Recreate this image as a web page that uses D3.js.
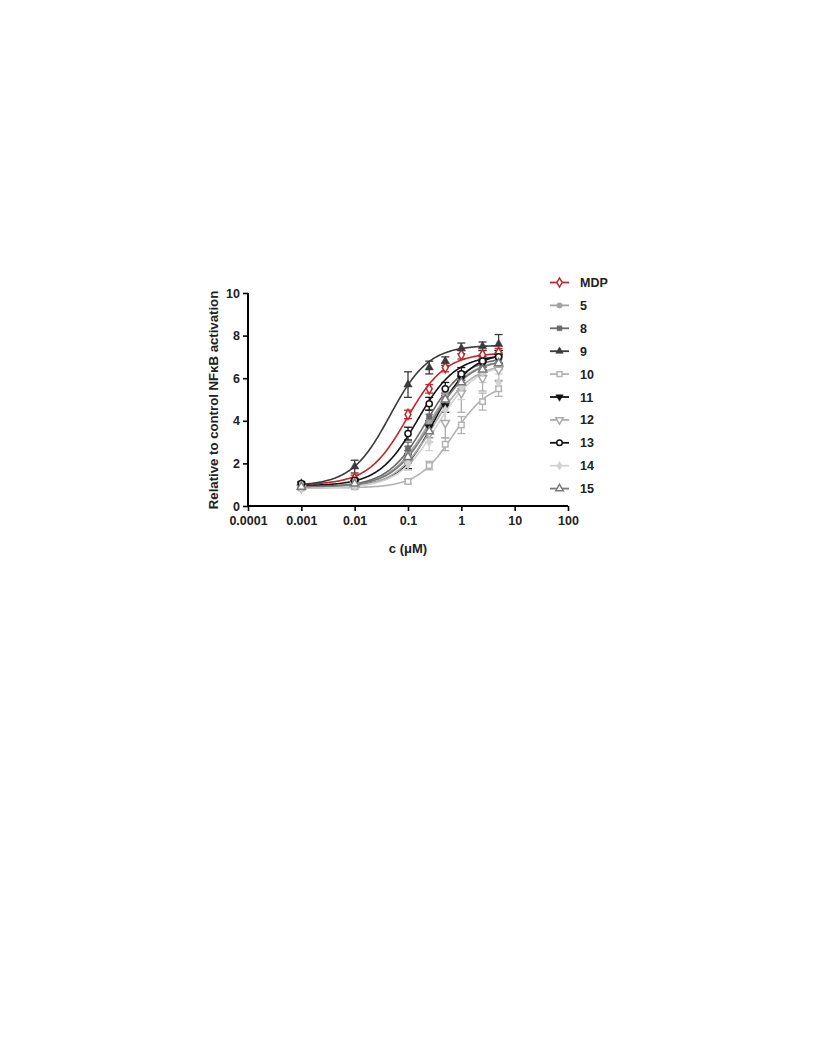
<!DOCTYPE html>
<html><head><meta charset="utf-8">
<script src="https://cdn.jsdelivr.net/npm/d3@7"></script>
<style>body{margin:0;background:#fff}svg{display:block}text{font-family:"Liberation Sans",Arial,sans-serif;font-weight:bold}</style>
</head><body>
<svg id="c" width="816" height="1056"></svg>
<script>
// concentrations (µM)
const conc = [0.001, 0.01, 0.1, 0.25, 0.5, 1, 2.5, 5];
const seriesNames = ["MDP","5","8","9","10","11","12","13","14","15"];
const seriesColors = ["#c1272d","#a3a3a3","#6a6a6a","#3a3a3a","#b3b3b3","#111111","#ababab","#141414","#d2d2d2","#7a7a7a"];
const seriesSymbols = ["diamondOpen","circle","square","triangle","squareOpen","triangleDown","triangleDownOpen","circleOpen","diamond","triangleOpen"];
// mean responses
const vMDP = [1.0, 1.3, 4.3, 5.5, 6.5, 7.1, 7.1, 7.2];
const v5   = [0.95, 1.1, 2.5, 4.0, 5.2, 5.9, 6.5, 6.8];
const v8   = [0.9, 1.15, 2.7, 4.2, 5.0, 6.0, 6.6, 6.9];
const v9   = [1.0, 1.85, 5.7, 6.5, 6.8, 7.4, 7.5, 7.6];
const v10  = [0.85, 0.9, 1.15, 1.9, 2.9, 3.8, 4.9, 5.5];
const v11  = [0.9, 1.1, 2.1, 3.7, 4.7, 6.0, 6.7, 7.0];
const v12  = [0.85, 1.0, 2.0, 3.4, 3.9, 5.3, 6.0, 6.4];
const v13  = [1.05, 1.2, 3.4, 4.8, 5.5, 6.2, 6.8, 7.0];
const v14  = [0.85, 0.95, 2.0, 3.0, 4.5, 5.6, 6.3, 5.8];
const v15  = [0.9, 1.05, 2.3, 3.5, 5.0, 5.8, 6.4, 6.7];
// error (SD)
const eMDP = [0.1, 0.15, 0.2, 0.2, 0.2, 0.2, 0.2, 0.2];
const e5   = [0.1, 0.1, 0.3, 0.3, 0.3, 0.3, 0.3, 0.3];
const e8   = [0.1, 0.1, 0.3, 0.3, 0.3, 0.3, 0.3, 0.3];
const e9   = [0.1, 0.3, 0.6, 0.3, 0.2, 0.25, 0.2, 0.45];
const e10  = [0.1, 0.1, 0.1, 0.2, 0.3, 0.4, 0.4, 0.35];
const e11  = [0.1, 0.1, 0.35, 0.3, 0.3, 0.3, 0.3, 0.3];
const e12  = [0.1, 0.1, 0.3, 0.4, 0.7, 0.9, 0.6, 0.5];
const e13  = [0.1, 0.1, 0.3, 0.3, 0.3, 0.3, 0.3, 0.3];
const e14  = [0.1, 0.1, 0.3, 0.4, 0.5, 0.6, 0.5, 0.4];
const e15  = [0.1, 0.1, 0.3, 0.3, 0.3, 0.3, 0.3, 0.3];
// fitted 4-parameter curve parameters
const fitBottom = [1.0, 0.9, 0.9, 0.95, 0.85, 0.9, 0.85, 0.95, 0.85, 0.9];
const fitTop    = [7.2, 6.9, 7.0, 7.55, 5.8, 7.2, 6.7, 7.1, 6.7, 6.9];
const fitEC50   = [0.095, 0.25, 0.22, 0.046, 0.7, 0.32, 0.3, 0.15, 0.35, 0.27];
const fitHill   = [1.2, 1.2, 1.2, 1.2, 1.3, 1.3, 1.2, 1.2, 1.2, 1.2];
const values = [vMDP,v5,v8,v9,v10,v11,v12,v13,v14,v15];
const errors = [eMDP,e5,e8,e9,e10,e11,e12,e13,e14,e15];
const xTicks = [0.0001, 0.001, 0.01, 0.1, 1, 10, 100];
const xTickLabels = ["0.0001","0.001","0.01","0.1","1","10","100"];
const yTicks = [0, 2, 4, 6, 8, 10];

const svg = d3.select("#c");
const x = d3.scaleLog().domain([1e-4, 100]).range([248, 568]);
const y = d3.scaleLinear().domain([0, 10]).range([506, 293]);

// axes
const minor = [];
for (let d = -4; d < 2; d++) for (let k = 2; k <= 9; k++) minor.push(k * Math.pow(10, d));
const gx = svg.append("g").attr("transform", "translate(0,506)");
gx.call(d3.axisBottom(x).tickValues(minor).tickSize(3).tickFormat(""));
gx.call(d3.axisBottom(x).tickValues(xTicks).tickSize(5).tickPadding(5).tickFormat((d,i)=>xTickLabels[i]));
gx.selectAll("path.domain").attr("stroke","#000").attr("stroke-width",2).attr("d","M248,0H568");
gx.selectAll(".tick line").attr("stroke","#000").attr("stroke-width",1.6);
gx.selectAll(".tick text").attr("font-size",12.5).attr("fill","#222").attr("font-family","Liberation Sans, Arial").attr("font-weight","bold");

const gy = svg.append("g").attr("transform", "translate(248,0)");
gy.call(d3.axisLeft(y).tickValues(yTicks).tickSize(5).tickPadding(3));
gy.selectAll("path.domain").attr("stroke","#000").attr("stroke-width",2).attr("d","M0,293V506");
gy.selectAll(".tick line").attr("stroke","#000").attr("stroke-width",1.6);
gy.selectAll(".tick text").attr("font-size",12.5).attr("fill","#222").attr("font-family","Liberation Sans, Arial").attr("font-weight","bold");

svg.append("text").attr("x",408).attr("y",553).attr("text-anchor","middle").attr("font-size",13).attr("fill","#222").text("c (\u03bcM)");
svg.append("text").attr("transform","translate(218,400) rotate(-90)").attr("text-anchor","middle").attr("font-size",13.2).attr("fill","#222").text("Relative to control NF\u03baB activation");

// symbols
function sym(name, size) {
  const base = name.replace("Open","");
  let t;
  if (base === "circle") t = d3.symbolCircle;
  else if (base === "square") t = d3.symbolSquare;
  else if (base === "triangle") t = d3.symbolTriangle;
  else if (base === "diamond") t = d3.symbolDiamond;
  else if (base === "triangleDown") t = d3.symbolTriangle;
  return d3.symbol(t, size)();
}
function drawMarker(g, name, color, cx, cy, size) {
  const open = name.endsWith("Open");
  const down = name.startsWith("triangleDown");
  const p = g.append("path").attr("d", sym(name, size))
    .attr("transform", `translate(${cx},${cy})` + (down ? " rotate(180)" : ""));
  if (open) p.attr("fill","#fff").attr("stroke",color).attr("stroke-width",1.5);
  else p.attr("fill",color).attr("stroke",color).attr("stroke-width",0.5);
}

const line = d3.line().x(d=>x(d[0])).y(d=>y(d[1])).curve(d3.curveLinear);
const plot = svg.append("g");
const curveX = d3.range(0, 201).map(i => Math.pow(10, -3 + i * (Math.log10(5) + 3) / 200));

// error bars
seriesNames.forEach((s, si) => {
  const g = plot.append("g");
  conc.forEach((c, i) => {
    const v = values[si][i], e = errors[si][i];
    const cx = x(c);
    g.append("line").attr("x1",cx).attr("x2",cx).attr("y1",y(v-e)).attr("y2",y(v+e)).attr("stroke",seriesColors[si]).attr("stroke-width",1.3);
    [v-e, v+e].forEach(b => g.append("line").attr("x1",cx-4).attr("x2",cx+4).attr("y1",y(b)).attr("y2",y(b)).attr("stroke",seriesColors[si]).attr("stroke-width",1.3));
  });
});
// curves
seriesNames.forEach((s, si) => {
  const pts = curveX.map(c => [c, fitBottom[si] + (fitTop[si]-fitBottom[si]) / (1 + Math.pow(fitEC50[si]/c, fitHill[si]))]);
  plot.append("path").attr("d", line(pts)).attr("fill","none").attr("stroke",seriesColors[si]).attr("stroke-width",1.6);
});
// markers
seriesNames.forEach((s, si) => {
  const g = plot.append("g");
  conc.forEach((c, i) => drawMarker(g, seriesSymbols[si], seriesColors[si], x(c), y(values[si][i]), 30));
});

// legend
const leg = svg.append("g");
seriesNames.forEach((s, si) => {
  const ly = 282.5 + si * 22.9;
  leg.append("line").attr("x1",550).attr("x2",569).attr("y1",ly).attr("y2",ly).attr("stroke",seriesColors[si]).attr("stroke-width",1.8);
  drawMarker(leg, seriesSymbols[si], seriesColors[si], 559.5, ly, 24);
  leg.append("text").attr("x",580).attr("y",ly+4.5).attr("font-size",12.5).attr("fill","#222").text(s);
});
</script>
</body></html>
